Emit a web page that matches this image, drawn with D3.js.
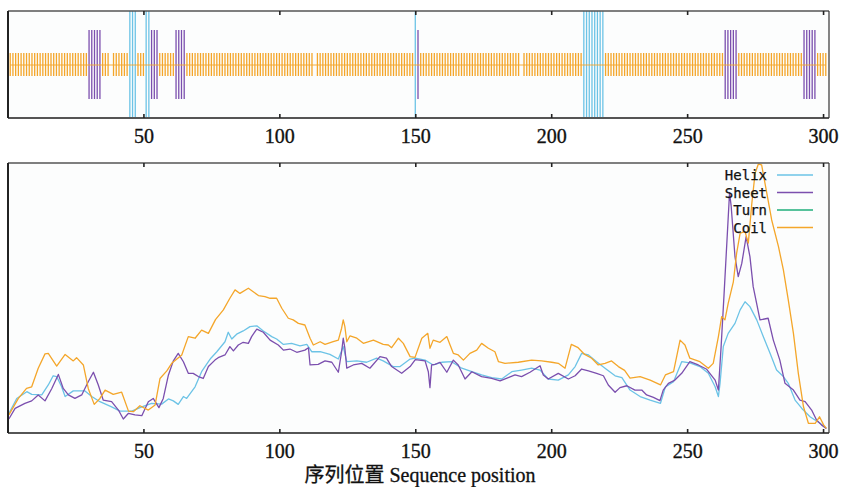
<!DOCTYPE html>
<html><head><meta charset="utf-8">
<script src="https://cdn.jsdelivr.net/npm/d3@7/dist/d3.min.js"></script>
<style>body{margin:0;background:#fff}</style>
</head><body>
<svg id="c" width="841" height="487"></svg>
<script>
// ---------------- data ----------------
const tickValues = [50, 100, 150, 200, 250, 300];
const nResidues = 301;
const helixResidues = [45, 46, 47, 51, 52, 150, 212, 213, 214, 215, 216, 217, 218, 219];
const sheetResidues = [30, 31, 32, 33, 34, 53, 54, 55, 62, 63, 64, 65, 151, 264, 265, 266, 267, 268, 293, 294, 295, 296, 297];
const gapResidues = [38, 113, 189];

const legendNames = ["Helix", "Sheet", "Turn", "Coil"];

const helixPos = [0.5,3.4,7.1,8.9,12.6,15,16.8,18.1,19.9,21.2,24.2,28.5,31,34,38.3,41.4,45.7,49.4,53,56.7,59.2,61,62.8,64.7,65.9,69,71.4,73.9,74.8,77,80,81.2,82.5,84.3,86.7,89.2,91.7,94.1,97.2,99,101.5,104.5,107.6,110.1,111.9,115,118.6,121.7,123.5,124.8,128.5,132.1,135.8,138.2,141.9,144.4,148.1,150,153.6,156.6,159.7,163.4,167.1,170.8,174.4,178.1,181.8,185.5,189.1,192.8,195.9,198.9,202.6,206.3,208.8,211.2,213.7,216.7,219.8,223.5,226,229,232.7,236.4,240.2,242,245,248,251,254.7,257.8,260.3,261.5,262.1,263.3,265.1,267.6,269.5,271.3,273.1,275.6,278,280.5,282.9,285.4,287.2,289.7,292.2,295.2,298.9,301.2];
const helixVal = [.072,.128,.153,.143,.141,.178,.212,.209,.171,.135,.156,.156,.135,.116,.097,.081,.081,.097,.11,.107,.126,.119,.106,.135,.128,.171,.227,.264,.277,.301,.338,.373,.348,.366,.378,.394,.397,.378,.357,.348,.328,.332,.323,.328,.301,.301,.291,.274,.32,.264,.267,.262,.277,.267,.246,.246,.274,.277,.27,.252,.262,.264,.24,.227,.215,.205,.2,.227,.233,.24,.233,.2,.196,.215,.246,.295,.289,.264,.24,.212,.205,.159,.135,.122,.11,.171,.19,.264,.26,.246,.221,.171,.135,.184,.32,.369,.406,.456,.486,.468,.419,.357,.295,.233,.209,.184,.122,.091,.06,.036,.017];

const sheetPos = [0.5,2.8,6.4,8.9,11.3,13.8,16.3,18.7,20.5,22.4,24.8,27.3,29.7,31.6,33.4,35.2,38.3,40.8,42.6,44.5,46.9,49.4,51.8,53.6,55.7,57.3,59.2,61,62.8,64.7,66.5,68.3,70.2,72,73.9,76.3,77.5,80,81.8,83.1,84.9,86.7,88.6,89.8,91.7,94.1,96.6,99.6,101.5,103.9,106.4,109.4,110.7,111.3,114.3,116.8,119.3,121.7,122.9,123.5,124.1,124.8,127.2,130.3,133.3,137,139.4,141.3,145,148.1,150,153.6,154.8,155.4,156,157.3,159.1,161.6,164,165.8,168.3,170.8,174.4,178.1,181.2,184.2,186.7,189.1,192.2,195.9,197.1,198.9,202.6,206.3,208.8,211.2,213.7,216.7,219.2,221,223.5,225.3,227.8,230.8,233.3,235.1,237.6,240,241.2,243.1,245.5,248,251,254.1,257.2,260.3,261.5,262.5,263.6,264.6,265.6,266.2,267.6,268.8,270.1,271.7,273.1,274.3,276.8,279.8,281.7,284.1,286,289.1,291.5,293.4,295.8,297.6,299.4,301.2];
const sheetVal = [.052,.091,.11,.119,.141,.119,.165,.217,.165,.141,.128,.141,.19,.225,.178,.122,.116,.085,.052,.073,.067,.064,.116,.128,.094,.128,.215,.267,.295,.264,.221,.221,.209,.202,.246,.27,.279,.289,.32,.304,.326,.336,.332,.357,.385,.373,.344,.326,.307,.311,.299,.307,.316,.252,.254,.267,.262,.225,.301,.351,.314,.24,.252,.258,.24,.283,.277,.246,.221,.246,.272,.267,.227,.168,.252,.254,.262,.225,.27,.252,.2,.227,.209,.202,.193,.205,.215,.209,.225,.249,.215,.2,.221,.2,.212,.237,.23,.221,.212,.178,.151,.168,.175,.159,.159,.141,.132,.12,.159,.184,.196,.221,.264,.252,.236,.196,.159,.32,.517,.703,.89,.84,.653,.579,.628,.727,.653,.542,.419,.425,.344,.27,.184,.159,.122,.116,.085,.048,.03,.017];

const coilPos = [0.5,4,7,8.9,11.3,13.8,15,18.1,21.2,24.2,25.4,27.9,29.7,31.9,34,35.9,38.9,42,44.5,46.3,48.7,51.8,54.3,56.1,58.6,60.4,64.1,66.5,69,71.4,73.9,76.5,79.4,81.8,83.7,85.5,88.6,90.4,92.3,94.7,96.6,99,100.9,103.3,105.1,107,109.4,111.3,112.5,115,116.8,119.8,121.7,122.9,123.5,124.1,124.8,126,128.5,130.9,134.6,138.2,140.1,141.3,143.8,145.6,148.1,149.9,152.4,154.6,155.4,156.6,159.1,161.6,162.8,164,165.8,167.7,170.1,172.6,174.4,176.9,179.3,180.6,183,187.9,192.8,196.5,200.2,202.6,205.1,207.4,209.9,212.3,214.9,217.3,219.8,222.2,224.7,227,229,232.7,236.4,240.2,242,245,247.4,249.2,251,254.7,257.8,259.6,261.5,262.7,263.9,265.1,267,268.2,269.5,271.3,272.5,273.8,275,276.2,277.4,279.3,281.1,283.6,285.4,287.2,289.1,290.9,292.8,294.6,297.1,298.7,300.2,301.2];
const coilVal = [.067,.128,.165,.171,.24,.293,.295,.248,.291,.267,.279,.252,.165,.106,.128,.159,.143,.151,.081,.079,.101,.085,.104,.202,.23,.258,.289,.357,.351,.381,.369,.42,.456,.499,.53,.517,.536,.523,.509,.505,.499,.499,.462,.425,.419,.406,.4,.351,.326,.338,.328,.338,.344,.388,.419,.394,.338,.36,.351,.332,.344,.328,.326,.316,.351,.332,.283,.28,.351,.369,.314,.344,.336,.357,.326,.295,.289,.27,.295,.307,.332,.314,.301,.264,.258,.262,.27,.267,.262,.258,.24,.328,.316,.291,.277,.252,.258,.267,.246,.232,.203,.209,.196,.178,.215,.227,.344,.326,.277,.264,.24,.258,.357,.431,.419,.48,.56,.665,.74,.746,.703,.851,.962,.996,.993,.888,.789,.69,.604,.493,.369,.221,.097,.036,.036,.06,.03,.017];

// ---------------- layout ----------------
const colors = {Helix: "#6cc3e6", Sheet: "#7b4fae", Turn: "#1fae7a", Coil: "#f4a62a"};
const L = 8, R = 829;
const top1 = 11, bot1 = 118;
const top2 = 163, bot2 = 433;

const svg = d3.select("#c");
const x = d3.scaleLinear().domain([0, 302]).range([7.5, 828.5]);
const y = d3.scaleLinear().domain([0, 1]).range([bot2, top2]);

function frame(t, b) {
  svg.append("rect").attr("x", L).attr("y", t).attr("width", R - L).attr("height", b - t)
    .attr("fill", "#fcfdfd").attr("stroke", "none");
}
function frameBorder(t, b) {
  svg.append("line").attr("x1", L).attr("x2", R).attr("y1", t).attr("y2", t).attr("stroke", "#555").attr("stroke-width", 1.6);
  svg.append("line").attr("x1", L).attr("x2", R).attr("y1", b).attr("y2", b).attr("stroke", "#555").attr("stroke-width", 1.8);
  svg.append("line").attr("x1", L).attr("x2", L).attr("y1", t).attr("y2", b).attr("stroke", "#222").attr("stroke-width", 2);
  svg.append("line").attr("x1", R).attr("x2", R).attr("y1", t).attr("y2", b).attr("stroke", "#333").attr("stroke-width", 1.2);
}
function axes(t, b) {
  const gb = svg.append("g").attr("transform", `translate(0,${b})`)
    .call(d3.axisBottom(x).tickValues(tickValues).tickSizeInner(-4).tickSizeOuter(0).tickPadding(11).tickFormat(d3.format("d")));
  const gt = svg.append("g").attr("transform", `translate(0,${t})`)
    .call(d3.axisTop(x).tickValues(tickValues).tickSizeInner(-4).tickSizeOuter(0).tickFormat(() => ""));
  [gb, gt].forEach(g => {
    g.select(".domain").remove();
    g.selectAll(".tick line").attr("stroke", "#222").attr("stroke-width", 1.6);
  });
  gb.selectAll(".tick text").attr("font-family", "'Liberation Serif', 'Times New Roman', serif")
    .attr("font-size", 20).attr("fill", "#111").attr("stroke", "#111").attr("stroke-width", 0.35);
}

// ---------- top panel: residue bars ----------
frame(top1, bot1);
const residues = d3.range(1, nResidues + 1);
const typeOf = r => helixResidues.includes(r) ? "Helix" : sheetResidues.includes(r) ? "Sheet" : gapResidues.includes(r) ? null : "Coil";
const mid = (top1 + bot1) / 2 + 0.5;
const barExtent = {Helix: [top1, bot1], Sheet: [30, 99], Coil: [53, 76]};
svg.append("g").selectAll("line").data(residues.filter(r => typeOf(r)))
  .join("line")
  .attr("x1", r => x(r)).attr("x2", r => x(r))
  .attr("y1", r => barExtent[typeOf(r)][0]).attr("y2", r => barExtent[typeOf(r)][1])
  .attr("stroke", r => colors[typeOf(r)])
  .attr("stroke-width", 1.3);
svg.append("line").attr("x1", x(1)).attr("x2", x(nResidues)).attr("y1", mid).attr("y2", mid)
  .attr("stroke", colors.Coil).attr("stroke-width", 1).attr("opacity", 0.9);
frameBorder(top1, bot1);
axes(top1, bot1);

// ---------- bottom panel: profiles ----------
frame(top2, bot2);
const line = d3.line().x(d => x(d[0])).y(d => y(d[1]));
const series = [
  {name: "Helix", pos: helixPos, val: helixVal},
  {name: "Sheet", pos: sheetPos, val: sheetVal},
  {name: "Coil", pos: coilPos, val: coilVal}
];
series.forEach(s => {
  svg.append("path").datum(d3.zip(s.pos, s.val))
    .attr("d", line).attr("fill", "none")
    .attr("stroke", colors[s.name]).attr("stroke-width", 1.3).attr("stroke-linejoin", "round");
});
frameBorder(top2, bot2);
axes(top2, bot2);

// legend
const legY = d3.scalePoint().domain(legendNames).range([175, 227.5]);
const lg = svg.append("g");
legendNames.forEach(n => {
  lg.append("text").attr("x", 767).attr("y", legY(n) + 5).attr("text-anchor", "end")
    .attr("font-family", "'DejaVu Sans Mono', monospace").attr("font-size", 14).attr("fill", "#111")
    .attr("stroke", "#111").attr("stroke-width", 0.25).text(n);
  lg.append("line").attr("x1", 777).attr("x2", 813).attr("y1", legY(n)).attr("y2", legY(n))
    .attr("stroke", colors[n]).attr("stroke-width", 1.3);
});

// axis title
svg.append("text").attr("x", 420).attr("y", 482).attr("text-anchor", "middle")
  .attr("font-family", "'Liberation Serif', 'Noto Sans CJK SC', serif").attr("font-size", 20).attr("fill", "#111")
  .attr("stroke", "#111").attr("stroke-width", 0.3)
  .text("序列位置 Sequence position");
</script>
</body></html>
